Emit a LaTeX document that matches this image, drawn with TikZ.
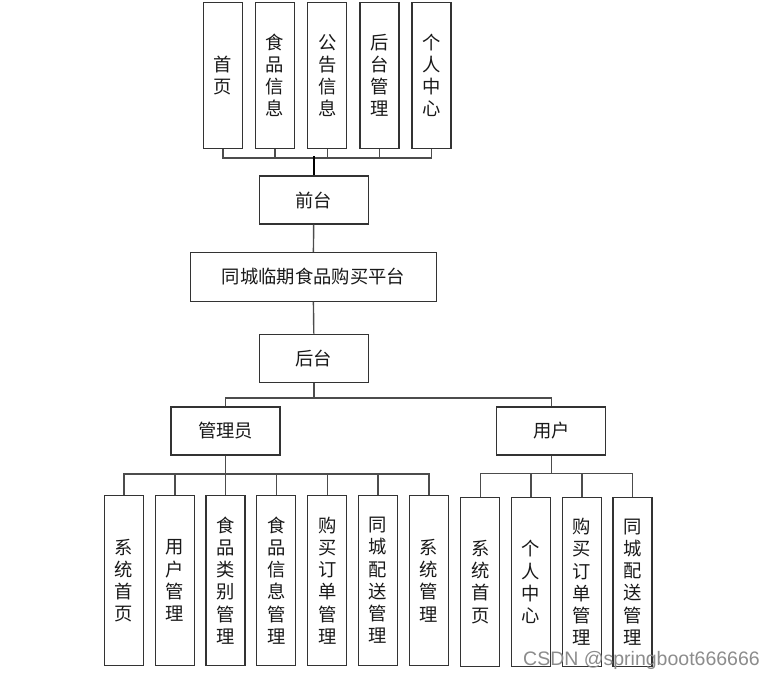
\documentclass[tikz,border=0pt]{standalone}
\usepackage{fontspec}
\newfontfamily\cjk{Noto Sans CJK SC}
\newfontfamily\wm{Liberation Sans}
\begin{document}
\begin{tikzpicture}[x=1pt,y=-1pt,
  box/.style={draw=black!80,line width=1.1pt,fill=white,inner sep=0pt,
    font=\cjk\fontsize{18.3}{22.2}\selectfont,align=center,text=black!90},
  vbox/.style={box,minimum width=39pt},
  hbox/.style={box,minimum width=109pt,minimum height=48pt},
  link/.style={draw=black!70,line width=1.4pt}]
\useasboundingbox (0,0) rectangle (775,679);
% top
\node[vbox,minimum height=145.6pt] (t1) at (222.8,75.5) {首\\页};
\node[vbox,minimum height=145.6pt] (t2) at (275,75.5) {食\\品\\信\\息};
\node[vbox,minimum height=145.6pt] (t3) at (327.2,75.5) {公\\告\\信\\息};
\node[vbox,minimum height=145.6pt] (t4) at (379.5,75.5) {后\\台\\管\\理};
\node[vbox,minimum height=145.6pt] (t5) at (431.5,75.5) {个\\人\\中\\心};
\node[hbox] (qt) at (313.7,200) {前台};
\node[hbox,minimum width=246.7pt,minimum height=48.7pt] (pt) at (313.4,276.7) {同城临期食品购买平台};
\node[hbox] (ht) at (313.8,358.2) {后台};
\node[hbox] (ad) at (225.5,431) {管理员};
\node[hbox] (us) at (551.3,431) {用户};
% admin children
\node[vbox,minimum height=169.6pt] (a1) at (123.8,580.5) {系\\统\\首\\页};
\node[vbox,minimum height=169.6pt] (a2) at (174.8,580.5) {用\\户\\管\\理};
\node[vbox,minimum height=169.6pt] (a3) at (225.5,580.5) {食\\品\\类\\别\\管\\理};
\node[vbox,minimum height=169.6pt] (a4) at (276.2,580.5) {食\\品\\信\\息\\管\\理};
\node[vbox,minimum height=169.6pt] (a5) at (327.2,580.5) {购\\买\\订\\单\\管\\理};
\node[vbox,minimum height=169.6pt] (a6) at (378,580.5) {同\\城\\配\\送\\管\\理};
\node[vbox,minimum height=169.6pt] (a7) at (428.8,580.5) {系\\统\\管\\理};
% user children
\node[vbox,minimum height=169.4pt] (u1) at (480.2,582) {系\\统\\首\\页};
\node[vbox,minimum height=169.4pt] (u2) at (530.8,582) {个\\人\\中\\心};
\node[vbox,minimum height=169.4pt] (u3) at (581.8,582) {购\\买\\订\\单\\管\\理};
\node[vbox,minimum height=169.4pt] (u4) at (632.5,582) {同\\城\\配\\送\\管\\理};
% links
\foreach \n in {t1,t2,t3,t4,t5}
  \draw[link] (\n.south) -- ++(0,9) -| (qt.north);
\draw[link,draw=black,line width=1.8pt] (qt.north) -- ++(0,-19);
\draw[link] (qt.south) -- (pt.north);
\draw[link] (pt.south) -- (ht.north);
\draw[link] (ht.south) -- ++(0,15.4) -| (ad.north);
\draw[link] (ht.south) -- ++(0,15.4) -| (us.north);
\foreach \n in {a1,a2,a3,a4,a5,a6,a7}
  \draw[link] (ad.south) -- ++(0,18.4) -| (\n.north);
\foreach \n in {u1,u2,u3,u4}
  \draw[link] (us.south) -- ++(0,18.2) -| (\n.north);
\node[anchor=east,font=\wm\fontsize{19.5}{21}\selectfont,text=black!45,inner sep=0pt] (wmk) at (760,660) {CSDN @springboot666666};
\end{tikzpicture}
\end{document}
